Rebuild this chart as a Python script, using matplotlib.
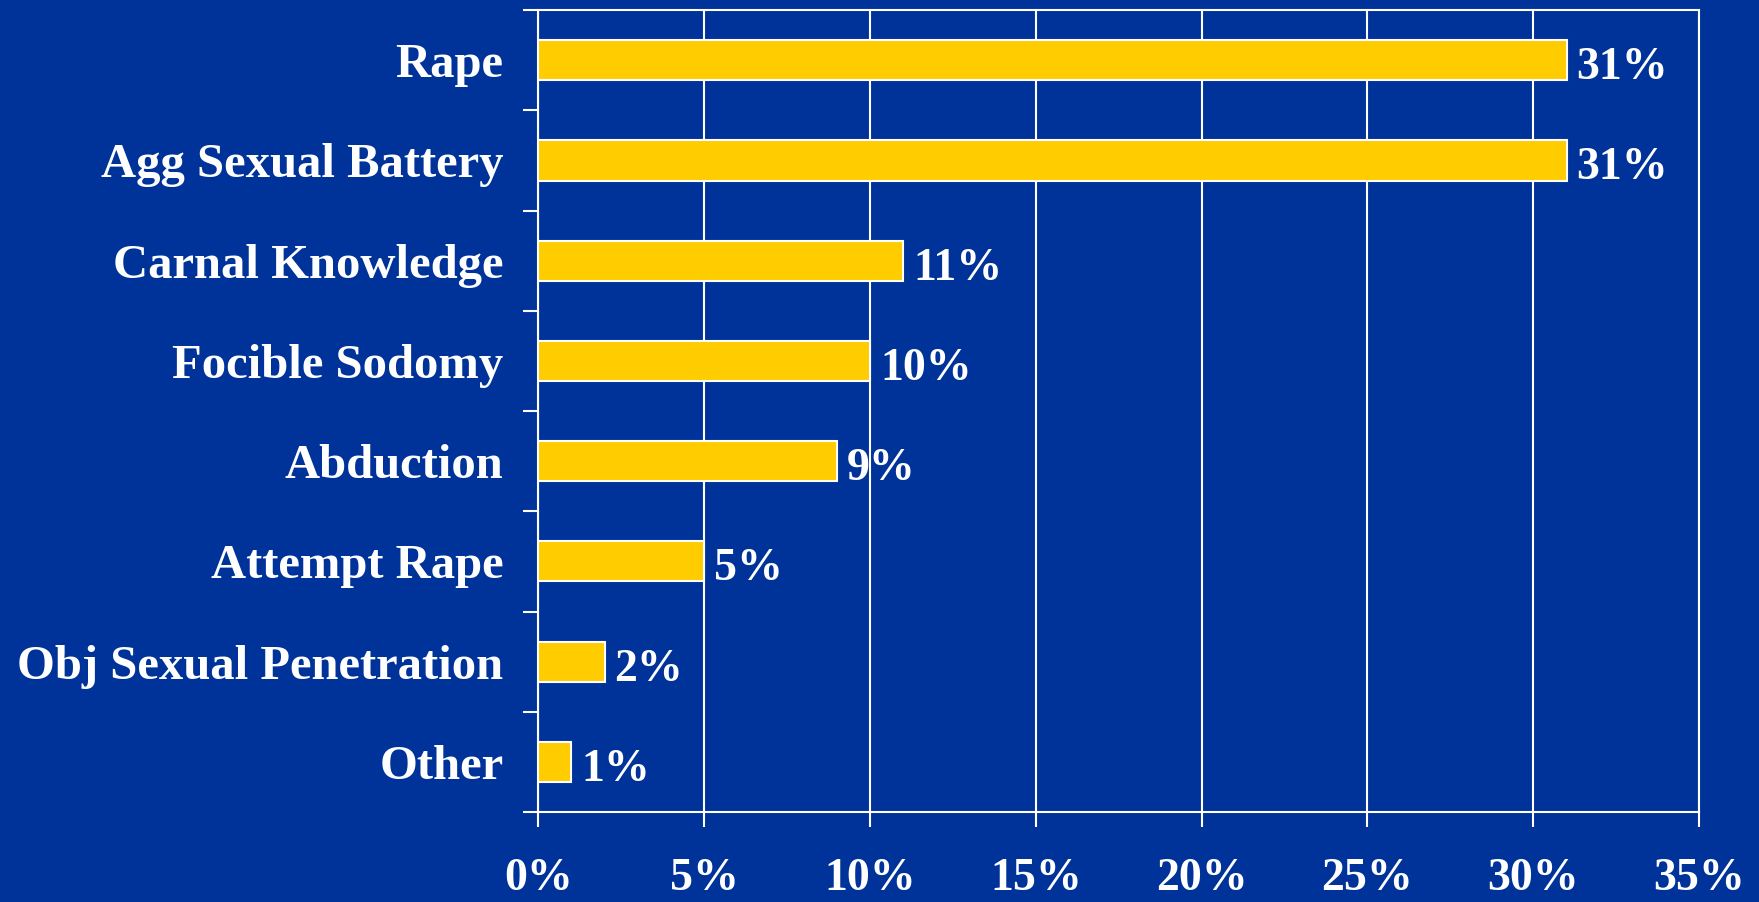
import numpy as np
import matplotlib.pyplot as plt

# Offence categories and share of cases (%)
categories = ["Rape", "Agg Sexual Battery", "Carnal Knowledge", "Focible Sodomy",
              "Abduction", "Attempt Rape", "Obj Sexual Penetration", "Other"]
values = [31, 31, 11, 10, 9, 5, 2, 1]
xticks = [0, 5, 10, 15, 20, 25, 30, 35]

bg = "#003399"
bar_color = "#FFCC00"
font = ["Liberation Serif", "DejaVu Serif"]

fig = plt.figure(figsize=(17.59, 9.02), dpi=100, facecolor=bg)
ax = fig.add_axes([0.306, 0.0998, 0.660, 0.889])
ax.set_facecolor(bg)

y = np.arange(len(categories))
ax.barh(y, values, height=0.4, color=bar_color, edgecolor="white", linewidth=1.5, zorder=3)

for yi, v in zip(y, values):
    ax.text(v + 0.3, yi + 0.08, f"{v}%", va="center", ha="left", color="white",
            fontsize=33, fontweight="bold", family=font, zorder=4)

ax.set_xlim(0, 35)
ax.set_ylim(len(categories) - 0.5, -0.5)

ax.set_xticks(xticks)
ax.set_xticklabels([f"{t}%" for t in xticks], family=font, fontsize=33,
                   fontweight="bold", color="white")
ax.set_yticks(y)
ax.set_yticklabels(categories, family=font, fontsize=35, fontweight="bold", color="white")
ax.set_yticks(np.arange(len(categories) + 1) - 0.5, minor=True)

ax.tick_params(axis="y", which="major", length=0, pad=25)
ax.tick_params(axis="y", which="minor", length=11, width=1.5, color="white", direction="out")
ax.tick_params(axis="x", which="major", length=11, width=1.5, color="white",
               direction="out", pad=22)

ax.grid(axis="x", color="white", linewidth=1.5, zorder=1)
for s in ax.spines.values():
    s.set_color("white")
    s.set_linewidth(1.5)

fig.savefig("out.png", dpi=100, facecolor=bg)
